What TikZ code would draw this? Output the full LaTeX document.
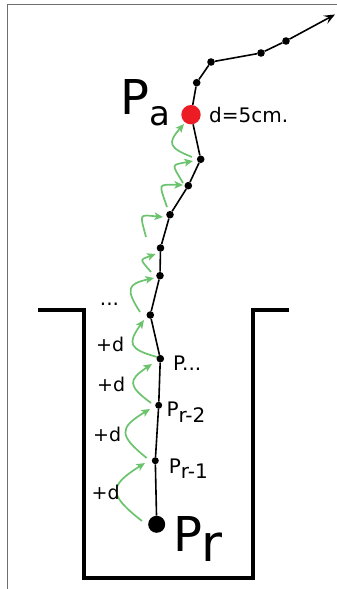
\documentclass[tikz,border=0pt]{standalone}
\usepackage{fontspec}
\setmainfont{DejaVu Sans}
\usetikzlibrary{arrows.meta}
\definecolor{hopgreen}{RGB}{108,195,110}
\definecolor{markred}{RGB}{236,28,36}
\definecolor{framegray}{RGB}{110,110,110}
\begin{document}
\begin{tikzpicture}[x=1pt,y=1pt,
  dot/.style={circle,fill=black,inner sep=0pt,minimum size=7.6pt},
  bigdot/.style={circle,fill=black,inner sep=0pt,minimum size=17pt},
  reddot/.style={circle,fill=markred,inner sep=0pt,minimum size=19.4pt},
  trail/.style={line width=1.6pt,black},
  wall/.style={line width=4pt,black,line join=miter},
  edge/.style={line width=1.3pt,framegray},
  hop/.style={line width=1.7pt,hopgreen,bend left=55,looseness=1.9,
    -{Stealth[length=8.5pt,width=7.5pt,inset=2pt]}},
  shorthop/.style={hop,looseness=2.4},
  lbl/.style={inner sep=0pt,anchor=base west,font=\fontsize{20}{24}\selectfont},
  plus/.style={inner sep=0pt,anchor=base west,font=\fontsize{19}{23}\selectfont}]
\useasboundingbox (0,0) rectangle (337,589);

% page edges
\draw[edge] (7.3,0) -- (7.3,584.3) -- (337,584.3);

% the pit
\draw[wall] (38,279) -- (83.5,279) -- (83.5,10.5) -- (252.5,10.5) -- (252.5,279) -- (289,279);

% points along the climb
\node[bigdot] (p1) at (156.7,64.7) {};
\node[dot,minimum size=7pt] (p2) at (155.3,128.3) {};
\node[dot,minimum size=7pt] (p3) at (158.7,183.7) {};
\node[dot] (p4) at (160.3,230.3) {};
\node[dot] (p5) at (150.3,274) {};
\node[dot] (p6) at (160,313.3) {};
\node[dot] (p7) at (160.5,341) {};
\node[dot] (p8) at (170,374.3) {};
\node[dot] (p9) at (188.3,403.3) {};
\node[dot] (p10) at (200.7,429.7) {};
\node[reddot] (pa) at (191,474.3) {};
\node[dot] (q1) at (196.7,506.3) {};
\node[dot] (q2) at (211,527) {};
\node[dot] (q3) at (261,536) {};
\node[dot] (q4) at (286,548) {};
\coordinate (tip) at (335,574.5);

\draw[trail] (p1) -- (p2) -- (p3) -- (p4) -- (p5) -- (p6) -- (p7) -- (p8) -- (p9) -- (p10) -- (pa)
  -- (q1) -- (q2) -- (q3) -- (q4);
\draw[trail,-{Stealth[length=11pt,width=9pt,inset=4.5pt]}] (q4) -- (tip);

% one step of d between neighbouring points
\draw[hop] ([shift={(-14.7,3.3)}]p1.center) to ([shift={(-10.3,-2.3)}]p2.center);
\draw[hop] ([shift={(-8.6,2.7)}]p2.center) to ([shift={(-8.7,-3.7)}]p3.center);
\draw[hop] ([shift={(-7.7,2.3)}]p3.center) to ([shift={(-8.3,-5.3)}]p4.center);
\draw[hop] ([shift={(-3.3,1.7)}]p4.center) to ([shift={(-6.3,-5)}]p5.center);
\draw[hop] ([shift={(-10.3,3)}]p5.center) to ([shift={(-6,-2.3)}]p6.center);
\draw[shorthop] ([shift={(-9,3.7)}]p6.center) to ([shift={(-4.8,-6)}]p7.center);
\draw[shorthop] ([shift={(-14.5,11)}]p7.center) to ([shift={(-7,-2.3)}]p8.center);
\draw[shorthop] ([shift={(-3,7.7)}]p8.center) to ([shift={(-5.3,0.7)}]p9.center);
\draw[shorthop] ([shift={(-5.3,2.7)}]p9.center) to ([shift={(-7.7,-1.7)}]p10.center);
\draw[hop] ([shift={(-8.7,2.3)}]p10.center) to ([shift={(-7,-9.3)}]pa.center);

% labels
\node[inner sep=0pt,anchor=base west,font=\fontsize{48}{52}\selectfont] (lpa) at (120.3,474) {P};
\node[inner sep=0pt,anchor=base west,font=\fontsize{34}{38}\selectfont] (lpasub) at (149.2,463) {a};
\node[lbl] (ld) at (209,466.3) {d=5cm.};
\node[inner sep=0pt,anchor=base west,font=\fontsize{48}{52}\selectfont] (lpr) at (172.8,37) {P};
\node[inner sep=0pt,anchor=base west,font=\fontsize{51}{55}\selectfont] (lprsub) at (201.5,27) {r};
\node[lbl] (lp1) at (168.7,115.7) {P};
\node[lbl] (lp1sub) at (180.7,110) {r-1};
\node[lbl] (lp2) at (166.3,172.3) {P};
\node[lbl] (lp2sub) at (178.3,166.7) {r-2};
\node[lbl] (lp3) at (173,218.3) {P...};
\node[lbl] (ldots) at (99.7,283.3) {...};
\node[plus] (d1) at (96,237.3) {+d};
\node[plus] (d2) at (97,197.3) {+d};
\node[plus] (d3) at (93,147.3) {+d};
\node[plus] (d4) at (91.4,89.7) {+d};
\end{tikzpicture}
\end{document}
